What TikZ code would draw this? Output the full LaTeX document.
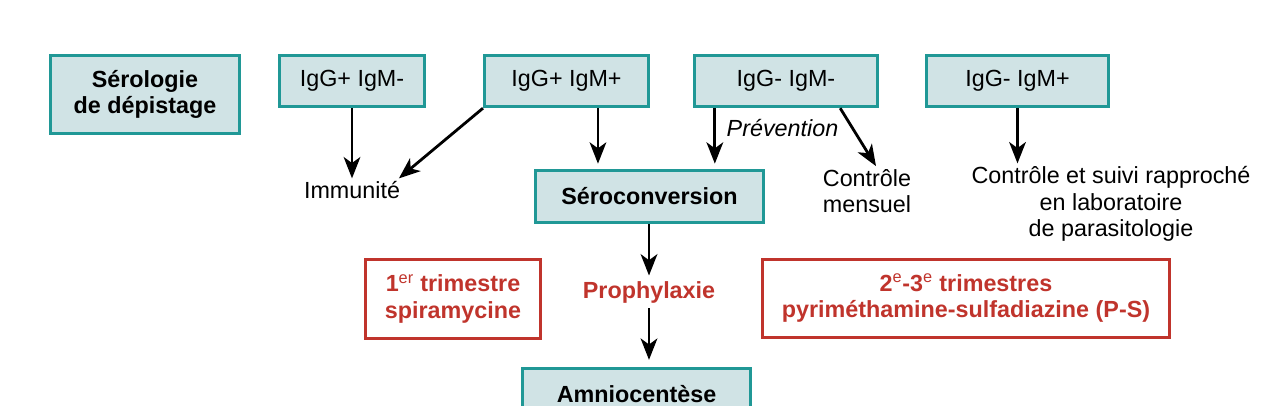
\documentclass[tikz,border=0pt]{standalone}
\usepackage{fontspec}
\setmainfont{Liberation Sans}
\usetikzlibrary{arrows.meta}
\definecolor{tealline}{RGB}{32,152,150}
\definecolor{tealfill}{RGB}{208,227,229}
\definecolor{redline}{RGB}{192,52,44}

\begin{document}
\begin{tikzpicture}[x=0.75pt,y=0.75pt,yscale=-1,xscale=1,
  every node/.style={font=\fontsize{17.5}{20}\selectfont},
  tealbox/.style={draw=tealline,fill=tealfill,line width=2.25pt,align=center,inner sep=0pt},
  redbox/.style={draw=redline,line width=2.25pt,align=center,inner sep=0pt,text=redline,font=\fontsize{17.5}{20}\selectfont\bfseries},
  plaintext/.style={align=center,inner sep=2pt},
  arr/.style={line width=2.1pt,-{Stealth[length=16pt,width=12.5pt,inset=4.5pt]}}]
\useasboundingbox (0,0) rectangle (1280,405);

%Shape: Rectangle [serologie]
\draw (145,94.5) node [tealbox,minimum width=142pt,minimum height=58.5pt,font=\fontsize{17.5}{20}\selectfont\bfseries] (serol) {Sérologie\\de dépistage};
%Shape: Rectangle [IgG+ IgM-]
\draw (352,81) node [tealbox,minimum width=109pt,minimum height=38.5pt] (igpm) {IgG+ IgM-};
%Shape: Rectangle [IgG+ IgM+]
\draw (566.5,81) node [tealbox,minimum width=123pt,minimum height=38.5pt] (igpp) {IgG+ IgM+};
%Shape: Rectangle [IgG- IgM-]
\draw (786,81) node [tealbox,minimum width=137.5pt,minimum height=38.5pt] (igmm) {IgG- IgM-};
%Shape: Rectangle [IgG- IgM+]
\draw (1017.5,81) node [tealbox,minimum width=137pt,minimum height=38.5pt] (igmp) {IgG- IgM+};
%Shape: Rectangle [seroconversion]
\draw (649.5,196.5) node [tealbox,minimum width=171pt,minimum height=39pt,font=\fontsize{17.5}{20}\selectfont\bfseries] (sero) {Séroconversion};
%Shape: Rectangle [amniocentese]
\draw (636.5,394) node [tealbox,minimum width=171pt,minimum height=39pt,font=\fontsize{17.5}{20}\selectfont\bfseries] (amnio) {Amniocentèse};
%Shape: Rectangle [1er trimestre]
\draw (453,299) node [redbox,minimum width=131.5pt,minimum height=59.5pt] (tri1) {1\textsuperscript{\mdseries er} trimestre\\spiramycine};
%Shape: Rectangle [2e-3e trimestres]
\draw (966,298.5) node [redbox,minimum width=305.5pt,minimum height=58.5pt] (tri23) {2\textsuperscript{\mdseries e}-3\textsuperscript{\mdseries e} trimestres\\pyriméthamine-sulfadiazine (P-S)};

% Text Node
\draw (352,190) node [plaintext] (immun) {Immunité};
% Text Node
\draw (867,191) node [plaintext] (ctrlm) {Contrôle\\mensuel};
% Text Node
\draw (1111,204) node [plaintext] (ctrls) {Contrôle et suivi rapproché\\en laboratoire\\de parasitologie};
% Text Node
\draw (782.5,128) node [plaintext,font=\fontsize{17.5}{20}\selectfont\itshape] (prev) {Prévention};
% Text Node
\draw (649,292) node [plaintext,inner sep=4pt,text=redline,font=\fontsize{17.5}{20}\selectfont\bfseries] (proph) {Prophylaxie};

%Straight Lines [arrows]
\draw [arr] (igpm.south) -- (immun.north);
\draw [arr] (igpp.south west) -- ([xshift=-3pt]immun.north east);
\draw [arr] ([xshift=23.6pt]igpp.south) -- ([xshift=23.6pt]igpp.south |- sero.north) [shorten >=4pt];
\draw [arr] ([xshift=16.5pt]igmm.south west) -- ([xshift=16.5pt]igmm.south west |- sero.north) [shorten >=4pt];
\draw [arr] ([xshift=-29.25pt]igmm.south east) -- ([xshift=6.75pt]ctrlm.north);
\draw [arr] (igmp.south) -- (igmp.south |- ctrls.north);
\draw [arr] (sero.south -| proph.north) -- (proph.north);
\draw [arr, shorten >=5pt] (proph.south) -- (proph.south |- amnio.north);

\end{tikzpicture}
\end{document}
